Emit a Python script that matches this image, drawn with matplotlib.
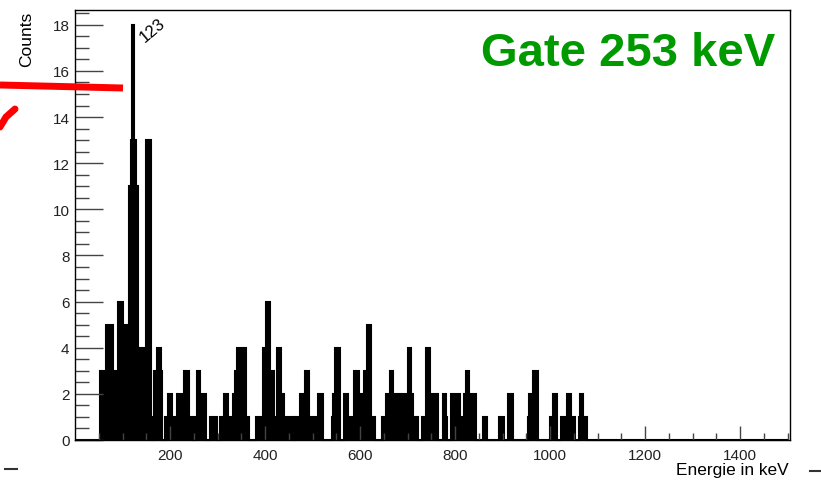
import matplotlib.pyplot as plt
from matplotlib.lines import Line2D

# Gamma-Spektrum im Gate auf 253 keV (Bingrenzen in keV, Inhalt je Bin)
kanten_kev = [0, 52, 66, 80, 91, 102, 110, 114, 118, 121, 125, 129, 132, 136,
              146, 149, 159, 163, 167, 172, 180, 183, 189, 196, 204, 214, 229,
              240, 249, 253, 256, 263, 266, 275, 284, 298, 305, 314, 323, 333,
              336, 341, 360, 366, 382, 395, 402, 410, 418, 425, 433, 439, 460,
              464, 474, 484, 493, 512, 521, 540, 543, 548, 558, 566, 575, 588,
              597, 609, 614, 623, 631, 646, 654, 663, 670, 700, 707, 712, 723,
              731, 738, 747, 765, 774, 781, 783, 792, 811, 818, 822, 830, 844,
              858, 868, 893, 903, 911, 921, 953, 955, 965, 975, 1000, 1007,
              1015, 1023, 1035, 1043, 1052, 1060, 1063, 1070, 1077, 1500]
counts = [0, 3, 5, 3, 6, 5, 4, 11, 13, 18, 13, 11, 1,
          4, 2, 13, 1, 0, 3, 4, 3, 0, 1, 2, 1, 2,
          3, 1, 0, 1, 3, 1, 2, 0, 1, 0, 1, 2, 1,
          2, 3, 4, 1, 0, 1, 4, 6, 3, 1, 4, 2, 1,
          0, 1, 2, 3, 1, 2, 0, 1, 2, 4, 0, 2, 1,
          3, 2, 3, 5, 1, 0, 1, 2, 3, 2, 4, 2, 1,
          0, 1, 4, 2, 0, 2, 1, 0, 2, 1, 2, 3, 2,
          0, 1, 0, 1, 0, 2, 0, 1, 2, 3, 0, 1,
          2, 0, 1, 2, 1, 0, 1, 2, 1, 0]

peak_kev = 123
peak_counts = 18

plt.rcParams['font.family'] = ['Liberation Sans', 'DejaVu Sans']

fig = plt.figure(figsize=(8.21, 4.81), dpi=100)
ax = fig.add_axes([75 / 821, 40 / 481, 715 / 821, 430 / 481])

ax.stairs(counts, kanten_kev, fill=True, color='black', linewidth=0)
ax.stairs(counts, kanten_kev, color='black', linewidth=1.5, clip_on=False)

ax.set_xlim(0, 1505)
ax.set_ylim(0, 18.64)

ax.set_xticks(range(200, 1401, 200))
ax.set_xticks(range(50, 1501, 50), minor=True)
ax.set_yticks(range(0, 19, 2))
ax.set_yticks([i * 0.5 for i in range(0, 38)], minor=True)

ax.tick_params(axis='x', which='major', direction='in', length=10, width=1,
               color='#444444', labelsize=11, pad=6, labelcolor='#222222')
ax.tick_params(axis='x', which='minor', direction='in', length=5, width=1,
               color='#444444')
ax.tick_params(axis='y', which='major', direction='in', length=20, width=1,
               color='#444444', labelsize=11, pad=4, labelcolor='#222222')
ax.tick_params(axis='y', which='minor', direction='in', length=10, width=1,
               color='#444444')
for s in ax.spines.values():
    s.set_linewidth(1)

# Peak-Beschriftung, schraeg ueber dem Maximum
ax.text(peak_kev + 24, peak_counts - 0.75, str(peak_kev), rotation=40,
        rotation_mode='anchor', ha='left', va='baseline', fontsize=12)

fig.text(27 / 821, 1 - 12 / 481, 'Counts', rotation=90, ha='center', va='top',
         fontsize=12.5)
fig.text(789 / 821, 1 - 471 / 481, 'Energie in keV', ha='right', va='center',
         fontsize=12.4)
fig.text(775 / 821, 1 - 66 / 481, 'Gate 253 keV', ha='right', va='baseline',
         fontsize=34, fontweight='bold', color='#009900')

# rote Markierungen links
fig.add_artist(Line2D([0, 123 / 821], [1 - 86 / 481, 1 - 89 / 481],
                      color='#ff0000', linewidth=5, solid_capstyle='butt'))
fig.add_artist(Line2D([0, 6 / 821, 15 / 821],
                      [1 - 128 / 481, 1 - 118 / 481, 1 - 110 / 481],
                      color='#ff0000', linewidth=5, solid_capstyle='round'))

# kleine Striche am unteren Rand
fig.add_artist(Line2D([5 / 821, 17 / 821], [1 - 470 / 481, 1 - 470 / 481],
                      color='#333333', linewidth=1.5))
fig.add_artist(Line2D([810 / 821, 821 / 821], [1 - 472 / 481, 1 - 472 / 481],
                      color='#333333', linewidth=1.5))

fig.savefig('out.png', dpi=100)
